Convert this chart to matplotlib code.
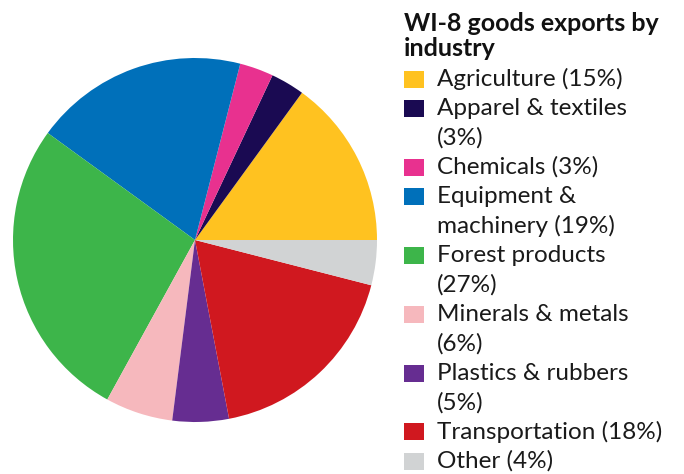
import matplotlib.pyplot as plt
from matplotlib.patches import Rectangle

# data
industries = ['Agriculture', 'Apparel & textiles', 'Chemicals', 'Equipment &\nmachinery',
              'Forest products', 'Minerals & metals', 'Plastics & rubbers',
              'Transportation', 'Other']
shares = [15, 3, 3, 19, 27, 6, 5, 18, 4]
# whether the "(xx%)" part goes on its own line in the legend
pct_on_new_line = [False, True, False, False, True, True, True, False, False]
colors = ['#FFC220', '#1A0A52', '#E8318F', '#0070BA', '#3DB54A',
          '#F6B8BD', '#662D91', '#D0181F', '#D1D3D4']
title = 'WI-8 goods exports by\nindustry'

W, H = 684, 474
fig = plt.figure(figsize=(W / 100, H / 100), dpi=100)

# pie, centre ~ (195, 240) px, radius ~182 px
cx, cy, r = 195, 240, 182
ax = fig.add_axes([(cx - r) / W, (H - cy - r) / H, 2 * r / W, 2 * r / H])
ax.pie(shares, colors=colors, startangle=0, counterclock=True,
       wedgeprops=dict(linewidth=0))
ax.set_xlim(-1, 1)
ax.set_ylim(-1, 1)
ax.set_aspect('equal')
ax.axis('off')

# legend drawn by hand so the swatch sits on the first line of each label
font = 'Lato'
x_patch, x_text = 404, 437
fig.text(x_patch / W, 1 - 36 / H, title, fontsize=18, fontweight='bold',
         family=font, ha='left', va='center', linespacing=1.1, color='#111111')

line_h = 29.4
y = 79
for name, val, newline, col in zip(industries, shares, pct_on_new_line, colors):
    label = f'{name}\n({val}%)' if newline else f'{name} ({val}%)'
    n_lines = label.count('\n') + 1
    fig.add_artist(Rectangle((x_patch / W, 1 - (y + 8.5) / H), 20 / W, 17 / H,
                             facecolor=col, edgecolor='none',
                             transform=fig.transFigure))
    for i, line in enumerate(label.split('\n')):
        fig.text(x_text / W, 1 - (y + i * line_h) / H, line, fontsize=17.5,
                 family=font, ha='left', va='center', color='#1a1a1a')
    y += n_lines * line_h

fig.savefig('out.png', dpi=100)
